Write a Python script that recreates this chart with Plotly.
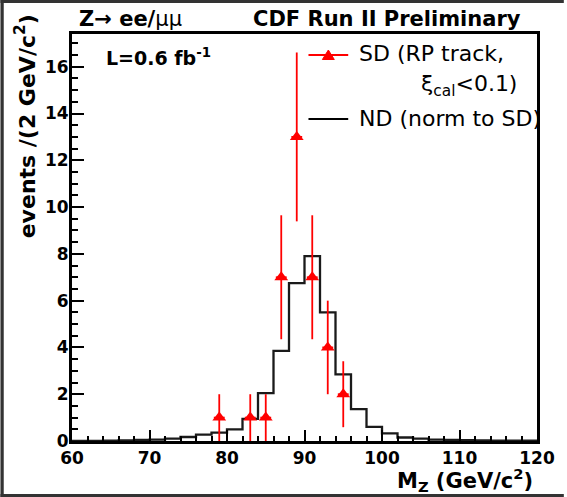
import plotly.graph_objects as go

# ---------------- data ----------------
# ND histogram (normalised to SD), 2 GeV bins from 60 to 120
bin_edges = list(range(60, 122, 2))
nd_values = [0.0, 0.0, 0.02, 0.03, 0.05, 0.06, 0.10, 0.17, 0.27, 0.36,
             0.50, 0.95, 2.05, 3.85, 6.75, 7.90, 5.50, 2.85, 1.36, 0.60,
             0.33, 0.15, 0.10, 0.06, 0.05, 0.04, 0.03, 0.02, 0.02, 0.01]

# SD data points (bin centres), counts and Poisson errors
sd_x = [79, 83, 85, 87, 89, 91, 93, 95]
sd_y = [1, 1, 1, 7, 13, 7, 4, 2]
sd_err = [1.0, 1.0, 1.0, 2.65, 3.61, 2.65, 2.0, 1.41]
sd_xerr = [0.7, 0.7, 0.7, 0.7, 0.7, 0.7, 0.7, 0.7]

x_range = [60, 120]
y_range = [0, 17.4]

# ---------------- layout geometry ----------------
W, H = 567, 497
ML, MR, MT, MB = 72, 27, 34, 56
PW = W - ML - MR
PH = H - MT - MB


def px(x):
    return (x - ML) / PW


def py(y):
    return (H - MB - y) / PH


BOLD = dict(family="DejaVu Sans", size=21, color="black", weight="bold")
NORM = dict(family="DejaVu Sans", size=22, color="black")

fig = go.Figure()

# ND histogram as step line
fig.add_trace(go.Scatter(
    x=bin_edges,
    y=nd_values + [nd_values[-1]],
    mode="lines",
    line=dict(color="#1a1a1a", width=2.3, shape="hv"),
    showlegend=False,
    hoverinfo="skip",
))

# SD points with error bars
fig.add_trace(go.Scatter(
    x=sd_x,
    y=sd_y,
    mode="markers",
    marker=dict(symbol="triangle-up", size=12, color="red"),
    error_y=dict(type="data", array=sd_err, color="red", thickness=1.8, width=0),
    error_x=dict(type="data", array=sd_xerr, color="red", thickness=1.8, width=0),
    showlegend=False,
))

axis_common = dict(
    showgrid=False, zeroline=False,
    showline=True, linecolor="black", linewidth=3, mirror=True,
    ticks="inside", tickcolor="black", tickwidth=2,
    tickfont=dict(family="DejaVu Sans", size=17, color="black", weight="bold"),
)

fig.update_xaxes(
    range=x_range, dtick=10, tick0=60, ticklen=11,
    minor=dict(dtick=2, ticklen=5.5, ticks="inside", tickwidth=1.5, tickcolor="black"),
    **axis_common,
)
fig.update_yaxes(
    range=y_range, dtick=2, tick0=0, ticklen=12,
    minor=dict(dtick=0.5, ticklen=6, ticks="inside", tickwidth=1.5, tickcolor="black"),
    ticklabelstandoff=-3,
    **axis_common,
)

annotations = [
    dict(text='Z→ ee/<span style="font-weight:normal">μμ</span>', x=px(77), y=py(19),
         xanchor="left", yanchor="middle", font=BOLD),
    dict(text="CDF Run II Preliminary", x=px(526), y=py(19),
         xanchor="right", yanchor="middle", font=BOLD),
    dict(text="L=0.6 fb<sup>-1</sup>", x=px(104), y=py(57),
         xanchor="left", yanchor="middle", font=dict(BOLD, size=19)),
    dict(text="SD (RP track,", x=px(359), y=py(54),
         xanchor="left", yanchor="middle", font=NORM),
    dict(text="ξ<sub>cal</sub>&lt;0.1)", x=px(421), y=py(86),
         xanchor="left", yanchor="middle", font=NORM),
    dict(text="ND (norm to SD)", x=px(359), y=py(118),
         xanchor="left", yanchor="middle", font=NORM),
    dict(text="events /(2 GeV/c<sup>2</sup>)", x=px(25), y=py(126), textangle=-90,
         xanchor="center", yanchor="middle", font=dict(BOLD, size=22)),
    dict(text="M<sub>Z</sub> (GeV/c<sup>2</sup>)", x=px(538), y=py(480),
         xanchor="right", yanchor="middle", font=BOLD),
]
for a in annotations:
    a.update(xref="paper", yref="paper", showarrow=False)

dark = "#333333"
shapes = [
    # legend samples
    dict(type="line", x0=px(310), x1=px(350), y0=py(55), y1=py(55),
         line=dict(color="red", width=2)),
    dict(type="path",
         path=f"M {px(324)} {py(59.5)} L {px(336)} {py(59.5)} L {px(330)} {py(50)} Z",
         fillcolor="red", line=dict(color="red", width=1)),
    dict(type="line", x0=px(310), x1=px(350), y0=py(119), y1=py(119),
         line=dict(color="black", width=2)),
    # dark border of the picture
    dict(type="rect", x0=px(0), x1=px(3.3), y0=py(H), y1=py(0),
         fillcolor=dark, line=dict(width=0)),
    dict(type="rect", x0=px(0), x1=px(W), y0=py(3), y1=py(0),
         fillcolor=dark, line=dict(width=0)),
    dict(type="rect", x0=px(0), x1=px(W), y0=py(H), y1=py(494),
         fillcolor=dark, line=dict(width=0)),
]
for s in shapes:
    s.update(xref="paper", yref="paper")

fig.update_layout(
    width=W, height=H,
    margin=dict(l=ML, r=MR, t=MT, b=MB, pad=0),
    paper_bgcolor="white", plot_bgcolor="white",
    showlegend=False,
    annotations=annotations,
    shapes=shapes,
)

fig.write_html(
    "out.html",
    config={"displayModeBar": False},
    post_script=(
        "document.body.style.margin='0';document.body.style.padding='0';"
        "document.body.style.overflow='hidden';"
        "document.documentElement.style.overflow='hidden';"
    ),
)
